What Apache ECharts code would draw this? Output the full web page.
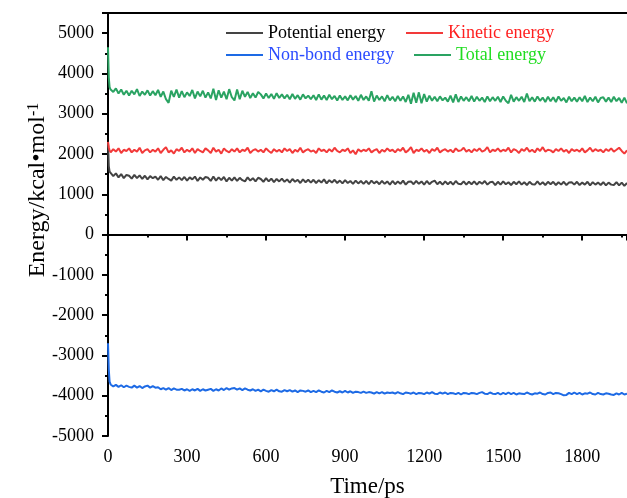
<!DOCTYPE html>
<html lang="en">
<head>
    <meta charset="UTF-8">
    <title>Energy / Time</title>
    <script src="https://cdn.jsdelivr.net/npm/echarts@6/dist/echarts.min.js"></script>
</head>
<body style="margin:0">
<div id="main" style="width: 627px; height: 498px;"></div>
<script>
    // sampling times (ps): a few early frames, then every 10 ps
    var timeStart = [0, 3, 6];
    var timeStep = 10, timeEnd = 1970;

    var xTicks = [0, 300, 600, 900, 1200, 1500, 1800];
    var yTicks = [-5000, -4000, -3000, -2000, -1000, 0, 1000, 2000, 3000, 4000, 5000];

    var seriesNames = ['Potential energy', 'Kinetic energy', 'Non-bond energy', 'Total energy'];

    var totalEnergy = [
        4650, 3900, 3660, 3600, 3540, 3630, 3500, 3600, 3470, 3570,
        3450, 3570, 3480, 3610, 3440, 3550, 3470, 3580, 3450, 3560,
        3460, 3590, 3420, 3550, 3360, 3270, 3570, 3420, 3600, 3400,
        3560, 3410, 3530, 3440, 3590, 3380, 3550, 3430, 3570, 3400,
        3530, 3380, 3620, 3340, 3580, 3400, 3550, 3360, 3610, 3410,
        3330, 3600, 3360, 3570, 3420, 3540, 3390, 3510, 3400, 3540,
        3480, 3380, 3500, 3390, 3490, 3370, 3510, 3390, 3480, 3380,
        3470, 3360, 3490, 3370, 3460, 3350, 3480, 3380, 3450, 3360,
        3460, 3340, 3480, 3350, 3450, 3340, 3470, 3360, 3440, 3330,
        3450, 3340, 3430, 3330, 3460, 3350, 3440, 3320, 3470, 3340,
        3430, 3320, 3560, 3300, 3450, 3340, 3430, 3310, 3460, 3330,
        3420, 3310, 3440, 3320, 3430, 3290, 3470, 3250, 3520, 3270,
        3530, 3260, 3490, 3300, 3450, 3320, 3420, 3310, 3430, 3330,
        3400, 3300, 3450, 3280, 3480, 3290, 3430, 3320, 3410, 3310,
        3440, 3300, 3420, 3320, 3400, 3290, 3430, 3310, 3410, 3320,
        3420, 3290, 3430, 3320, 3260, 3470, 3300, 3410, 3320, 3420,
        3290, 3500, 3310, 3410, 3300, 3430, 3320, 3400, 3290, 3420,
        3310, 3410, 3290, 3430, 3320, 3390, 3280, 3420, 3310, 3400,
        3300, 3410, 3310, 3440, 3290, 3400, 3310, 3420, 3280, 3390,
        3410, 3300, 3400, 3290, 3420, 3310, 3390, 3270, 3400, 3260
    ];

    var kineticEnergy = [
        2300, 2170, 2090, 2040, 2120, 2060, 2140, 2025, 2105, 2075,
        2140, 2040, 2105, 2060, 2155, 2025, 2090, 2120, 2040, 2105,
        2060, 2140, 2025, 2105, 2170, 2040, 2090, 2010, 2120, 2075,
        2155, 2040, 2105, 2060, 2140, 2025, 2120, 2075, 2040, 2140,
        2090, 2025, 2155, 2060, 2105, 2010, 2140, 2075, 2040, 2120,
        2060, 2140, 2040, 2105, 2075, 2155, 2025, 2090, 2120, 2060,
        2105, 2040, 2140, 2075, 2025, 2120, 2060, 2105, 2040, 2140,
        2075, 2120, 2025, 2105, 2060, 2155, 2040, 2090, 2120, 2060,
        2090, 2025, 2140, 2075, 2105, 2040, 2120, 2060, 2155, 2075,
        2040, 2105, 2075, 2140, 2025, 2090, 1995, 2120, 2060, 2105,
        2075, 2140, 2040, 2090, 2120, 2025, 2105, 2060, 2140, 2075,
        2105, 2040, 2120, 2075, 2155, 2040, 2090, 2170, 2025, 2105,
        2075, 2140, 2060, 2105, 2025, 2120, 2075, 2155, 2040, 2090,
        2120, 2060, 2105, 2040, 2140, 2075, 2090, 2155, 2060, 2105,
        2040, 2120, 2075, 2140, 2060, 2090, 2170, 2040, 2105, 2075,
        2140, 2060, 2105, 2075, 2155, 2040, 2120, 2090, 2025, 2120,
        2075, 2155, 2060, 2105, 2040, 2140, 2075, 2170, 2060, 2105,
        2090, 2040, 2120, 2075, 2140, 2060, 2105, 2025, 2120, 2075,
        2105, 2060, 2140, 2040, 2090, 2155, 2060, 2120, 2075, 2105,
        2040, 2120, 2075, 2140, 2060, 2105, 2155, 2075, 2010, 2090
    ];

    var potentialEnergy = [
        2300, 1700, 1560, 1540, 1450, 1520, 1420, 1500, 1400, 1480,
        1460, 1390, 1480, 1400, 1470, 1380, 1460, 1370, 1450, 1400,
        1440, 1360, 1450, 1350, 1430, 1380, 1340, 1440, 1360, 1420,
        1350, 1430, 1340, 1420, 1370, 1440, 1330, 1420, 1360, 1430,
        1410, 1330, 1440, 1340, 1420, 1350, 1430, 1320, 1410, 1340,
        1420, 1330, 1410, 1350, 1320, 1420, 1340, 1400, 1320, 1410,
        1380, 1310, 1400, 1320, 1390, 1300, 1380, 1320, 1390, 1310,
        1370, 1290, 1380, 1310, 1360, 1280, 1370, 1300, 1360, 1290,
        1360, 1280, 1350, 1290, 1370, 1270, 1350, 1290, 1360, 1280,
        1340, 1270, 1350, 1280, 1330, 1260, 1340, 1270, 1330, 1260,
        1330, 1250, 1340, 1270, 1320, 1250, 1330, 1260, 1320, 1240,
        1330, 1250, 1320, 1260, 1340, 1240, 1310, 1320, 1250, 1330,
        1260, 1320, 1240, 1330, 1250, 1310, 1340, 1250, 1310, 1240,
        1320, 1250, 1310, 1240, 1330, 1260, 1250, 1320, 1240, 1310,
        1250, 1320, 1240, 1310, 1260, 1330, 1240, 1300, 1310, 1230,
        1310, 1240, 1320, 1250, 1300, 1230, 1310, 1250, 1320, 1240,
        1300, 1230, 1310, 1250, 1240, 1320, 1240, 1300, 1230, 1310,
        1250, 1310, 1230, 1300, 1240, 1310, 1230, 1290, 1300, 1240,
        1310, 1230, 1290, 1240, 1310, 1220, 1300, 1240, 1290, 1230,
        1300, 1220, 1290, 1240, 1230, 1300, 1220, 1290, 1210, 1280
    ];

    var nonbondEnergy = [
        -2700, -3350, -3650, -3720, -3770, -3730, -3780, -3740, -3790, -3750,
        -3780, -3800, -3750, -3800, -3760, -3810, -3770, -3750, -3800, -3760,
        -3800, -3790, -3840, -3810, -3850, -3810, -3860, -3820, -3850, -3850,
        -3830, -3870, -3840, -3880, -3840, -3870, -3830, -3880, -3840, -3870,
        -3850, -3830, -3880, -3840, -3870, -3820, -3860, -3810, -3850, -3820,
        -3810, -3850, -3820, -3860, -3820, -3850, -3870, -3840, -3880, -3850,
        -3890, -3850, -3880, -3900, -3860, -3890, -3850, -3890, -3900, -3860,
        -3890, -3860, -3900, -3870, -3910, -3870, -3880, -3900, -3870, -3910,
        -3880, -3910, -3870, -3900, -3920, -3880, -3910, -3870, -3900, -3920,
        -3890, -3920, -3880, -3920, -3890, -3930, -3900, -3910, -3930, -3900,
        -3930, -3910, -3920, -3950, -3910, -3940, -3910, -3950, -3920, -3930,
        -3920, -3950, -3910, -3940, -3960, -3920, -3930, -3950, -3920, -3960,
        -3930, -3940, -3960, -3920, -3950, -3910, -3950, -3960, -3920, -3950,
        -3920, -3960, -3930, -3940, -3960, -3930, -3970, -3930, -3940, -3960,
        -3930, -3940, -3960, -3930, -3910, -3950, -3960, -3920, -3950, -3960,
        -3930, -3970, -3930, -3960, -3920, -3960, -3930, -3970, -3940, -3950,
        -3960, -3920, -3950, -3970, -3940, -3950, -3920, -3960, -3970, -3930,
        -3920, -3960, -3930, -3940, -3960, -3990, -3980, -3930, -3960, -3920,
        -3960, -3930, -3970, -3940, -3950, -3920, -3960, -3970, -3930, -3960,
        -3970, -3940, -3950, -3970, -3980, -3940, -3970, -3930, -3970, -3950
    ];

    var times = timeStart.slice();
    for (var t = timeStep; t <= timeEnd; t += timeStep) {
        times.push(t);
    }

    function pairs(values) {
        var out = [];
        for (var i = 0; i < values.length; i++) {
            out.push([times[i], values[i]]);
        }
        return out;
    }

    var font = 'Liberation Serif';
    var lineColors = ['#444444', '#f23a3a', '#1d6ae5', '#2aa362'];
    var textColors = ['#000000', '#ff1f1f', '#2a4bff', '#22dd22'];
    var legendPos = [[226, 24], [406, 24], [226, 46], [414, 46]];

    function makeLegend(i) {
        return {
            data: [{ name: seriesNames[i], textStyle: { color: textColors[i] } }],
            left: legendPos[i][0],
            top: legendPos[i][1],
            padding: 0,
            icon: 'rect',
            itemWidth: 37,
            itemHeight: 2,
            selectedMode: false,
            textStyle: { fontFamily: font, fontSize: 18 }
        };
    }

    function makeSeries(i, values) {
        return {
            name: seriesNames[i],
            type: 'line',
            data: pairs(values),
            showSymbol: false,
            animation: false,
            lineStyle: { width: 2, color: lineColors[i] },
            itemStyle: { color: lineColors[i] }
        };
    }

    function tickLabel(list) {
        return function (v) { return list.indexOf(v) >= 0 ? String(v) : ''; };
    }

    var myCharts = echarts.init(document.getElementById('main'));
    var option = {
        backgroundColor: '#ffffff',
        grid: { left: 108, right: 0, top: 13, bottom: 62, outerBoundsMode: 'none', containLabel: false },
        legend: [makeLegend(0), makeLegend(1), makeLegend(2), makeLegend(3)],
        graphic: [{
            type: 'text',
            x: 38,
            y: 190,
            rotation: Math.PI / 2,
            style: {
                text: 'Energy/kcal•mol{sup|-1}',
                fontFamily: font,
                fontSize: 24,
                fill: '#000',
                align: 'center',
                verticalAlign: 'middle',
                rich: {
                    sup: { fontFamily: font, fontSize: 16, verticalAlign: 'top', padding: [0, 0, 7, 0] }
                }
            }
        }],
        xAxis: [{
            type: 'value',
            min: xTicks[0],
            max: timeEnd,
            interval: xTicks[1] - xTicks[0],
            name: 'Time/ps',
            nameLocation: 'middle',
            nameGap: 39,
            nameTextStyle: { fontFamily: font, fontSize: 23, color: '#000' },
            splitLine: { show: false },
            axisLine: { lineStyle: { color: '#000', width: 2 } },
            axisTick: { length: 6, lineStyle: { width: 2, color: '#000' } },
            minorTick: { show: true, splitNumber: 2, length: 3, lineStyle: { width: 2, color: '#000' } },
            axisLabel: { fontFamily: font, fontSize: 18, color: '#000', margin: 12, formatter: tickLabel(xTicks) }
        }, {
            type: 'value',
            position: 'top',
            min: xTicks[0],
            max: timeEnd,
            splitLine: { show: false },
            axisLine: { lineStyle: { color: '#000', width: 2 } },
            axisTick: { show: false },
            axisLabel: { show: false }
        }],
        yAxis: {
            type: 'value',
            min: yTicks[0],
            max: 5500,
            interval: yTicks[1] - yTicks[0],
            splitLine: { show: false },
            axisLine: { show: true, lineStyle: { color: '#000', width: 2 } },
            axisTick: { show: true, length: 6, lineStyle: { width: 2, color: '#000' } },
            minorTick: { show: true, splitNumber: 2, length: 3, lineStyle: { width: 2, color: '#000' } },
            axisLabel: { fontFamily: font, fontSize: 18, color: '#000', margin: 14, formatter: tickLabel(yTicks) }
        },
        series: [
            makeSeries(0, potentialEnergy),
            makeSeries(1, kineticEnergy),
            makeSeries(2, nonbondEnergy),
            makeSeries(3, totalEnergy)
        ]
    };
    myCharts.setOption(option);
</script>
</body>
</html>
